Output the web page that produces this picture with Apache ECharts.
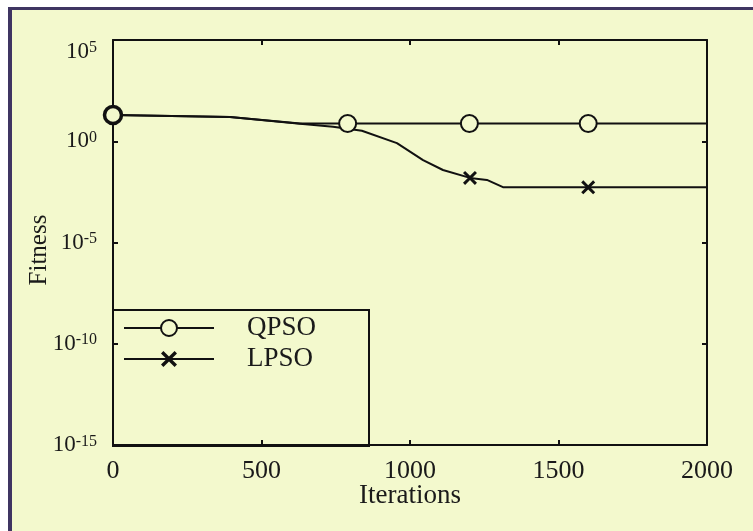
<!DOCTYPE html>
<html><head><meta charset="utf-8">
<script src="https://cdn.jsdelivr.net/npm/echarts@6/dist/echarts.min.js"></script>
<style>
html,body{margin:0;padding:0;background:#fff;width:753px;height:531px;overflow:hidden}
#frame{position:absolute;left:8px;top:7px;right:0;bottom:0;background:#f3f9cd;border-left:4px solid #3f3562;border-top:3px solid #3f3562}
#chart{position:absolute;left:0;top:0;width:753px;height:531px}
</style></head><body>
<div id="frame"></div><div id="chart"></div>
<script>
// ---- data ----
const seriesNames = ['QPSO', 'LPSO'];
const qpsoIter    = [0, 394, 630, 790, 1200, 1600, 2000];
const qpsoFitness = [20, 15.8, 7.6, 7.5, 7.5, 7.5, 7.5];
const qpsoMarkerIter = [0, 790, 1200, 1600];
const lpsoIter    = [0, 394, 630, 741, 838, 956, 1044, 1111, 1202, 1259, 1313, 1600, 2000];
const lpsoFitness = [20, 15.8, 7.4, 5.2, 3.3, 0.81, 0.117, 0.038, 0.0155, 0.0123, 0.0054, 0.0053, 0.0053];
const lpsoMarkerIter = [1202, 1600];
const xMin = 0, xMax = 2000, xInterval = 500;
const yMin = 1e-15, yMax = 1e5, yDecadeStep = 5;

// ---- build ----
const FONT = 'Liberation Serif';
const INK = '#111';
const TXT = '#1a1a1a';
const BG = '#f3f9cd';
const CROSS = 'path://M0,1.5L1.5,0L5,3.5L8.5,0L10,1.5L6.5,5L10,8.5L8.5,10L5,6.5L1.5,10L0,8.5L3.5,5Z';

function buildData(xs, ys, markers, heavyFirst) {
  return xs.map((x, i) => {
    const item = { value: [x, ys[i]] };
    if (markers.indexOf(x) < 0) item.symbol = 'none';
    else if (heavyFirst && i === 0) item.itemStyle = { borderWidth: 3.5 };
    return item;
  });
}

const chart = echarts.init(document.getElementById('chart'), null, { renderer: 'canvas' });
const axisLineStyle = { show: true, onZero: false, lineStyle: { color: INK, width: 2 } };
const tickStyle = { show: true, inside: true, length: 5, lineStyle: { color: INK, width: 2 } };

chart.setOption({
  backgroundColor: 'transparent',
  animation: false,
  grid: { left: 113, right: 46, top: 40, bottom: 86, containLabel: false },
  legend: {
    data: seriesNames,
    orient: 'vertical',
    left: 113, top: 310,
    itemWidth: 90, itemHeight: 20, itemGap: 3,
    padding: [4, 47, 73, 10],
    borderColor: INK, borderWidth: 2,
    selectedMode: false,
    textStyle: { fontFamily: FONT, fontSize: 27, color: TXT, padding: [0, 0, 0, 28], width: 75, lineHeight: 28 }
  },
  xAxis: [{
    type: 'value', min: xMin, max: xMax, interval: xInterval, position: 'bottom',
    axisLine: axisLineStyle, axisTick: tickStyle, splitLine: { show: false },
    axisLabel: { fontFamily: FONT, fontSize: 26, color: TXT, margin: 13, formatter: v => String(v) },
    name: 'Iterations', nameLocation: 'middle', nameGap: 37, nameMoveOverlap: false,
    nameTextStyle: { fontFamily: FONT, fontSize: 27, color: TXT }
  }, {
    type: 'value', min: xMin, max: xMax, interval: xInterval, position: 'top',
    axisLine: axisLineStyle, axisTick: tickStyle, splitLine: { show: false },
    axisLabel: { show: false }
  }],
  yAxis: [{
    type: 'log', logBase: 10, min: yMin, max: yMax, interval: yDecadeStep, splitNumber: 4, position: 'left',
    axisLine: axisLineStyle, axisTick: tickStyle, splitLine: { show: false }, minorTick: { show: false },
    axisLabel: {
      margin: 16, color: TXT, hideOverlap: false, verticalAlignMaxLabel: 'top',
      formatter: v => '{b|10}{s|' + Math.round(Math.log10(v)) + '}',
      rich: {
        b: { fontFamily: FONT, fontSize: 23, color: TXT, lineHeight: 23, verticalAlign: 'bottom' },
        s: { fontFamily: FONT, fontSize: 16, color: TXT, lineHeight: 16, verticalAlign: 'top', padding: [0, 0, 10, 0] }
      }
    },
    name: 'Fitness', nameLocation: 'middle', nameGap: 61, nameMoveOverlap: false,
    nameTextStyle: { fontFamily: FONT, fontSize: 25, color: TXT, padding: [0, 15, 0, 0] }
  }, {
    type: 'log', logBase: 10, min: yMin, max: yMax, interval: yDecadeStep, splitNumber: 4, position: 'right',
    axisLine: axisLineStyle, axisTick: tickStyle, splitLine: { show: false },
    axisLabel: { show: false }
  }],
  series: [{
    name: seriesNames[0], type: 'line', xAxisIndex: 0, yAxisIndex: 0,
    data: buildData(qpsoIter, qpsoFitness, qpsoMarkerIter, true),
    symbol: 'circle', symbolSize: 17, showSymbol: true, showAllSymbol: true,
    lineStyle: { color: INK, width: 2 },
    itemStyle: { color: BG, borderColor: INK, borderWidth: 2 },
    z: 3
  }, {
    name: seriesNames[1], type: 'line', xAxisIndex: 0, yAxisIndex: 0,
    data: buildData(lpsoIter, lpsoFitness, lpsoMarkerIter, false),
    symbol: CROSS, symbolSize: 14, showSymbol: true, showAllSymbol: true,
    lineStyle: { color: INK, width: 2 },
    itemStyle: { color: INK, borderWidth: 0 },
    z: 2
  }]
});
</script></body></html>
